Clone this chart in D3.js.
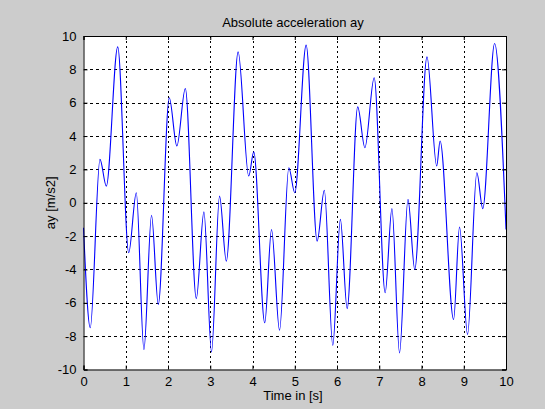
<!DOCTYPE html>
<html><head><meta charset="utf-8">
<script src="https://cdn.jsdelivr.net/npm/d3@7"></script>
<style>html,body{margin:0;padding:0;background:#cccccc;}svg{display:block;}</style>
</head><body>
<script>
const title = "Absolute acceleration ay";
const xLabel = "Time in [s]";
const yLabel = "ay [m/s2]";
const xTicks = [0,1,2,3,4,5,6,7,8,9,10];
const yTicks = [-10,-8,-6,-4,-2,0,2,4,6,8,10];
// time samples (s) and acceleration values (m/s2), read at the turning points
const time = [0,0.16,0.39,0.54,0.81,1.07,1.25,1.43,1.61,1.77,2.03,2.21,2.41,2.67,2.85,3.03,3.22,3.38,3.66,3.91,4.03,4.29,4.45,4.64,4.86,5.0,5.27,5.53,5.70,5.90,6.08,6.24,6.49,6.66,6.88,7.14,7.30,7.48,7.68,7.84,8.13,8.36,8.44,8.76,8.90,9.09,9.31,9.45,9.73,10];
const ay   = [-1.5,-7.5,2.6,1.0,9.35,-3.0,0.6,-8.8,-0.75,-6.1,6.3,3.4,6.85,-5.75,-0.55,-8.95,0.4,-3.5,9.05,1.6,3.05,-7.2,-1.6,-7.65,2.1,0.6,9.45,-2.3,0.75,-8.55,-1.0,-6.35,5.75,3.3,7.5,-5.4,-0.35,-9.0,0.2,-4.0,8.75,2.2,3.7,-7.0,-1.45,-7.9,1.8,-0.35,9.55,-1.6];

const W = 545, H = 409;
const m = {left:83.5, right:506, top:36, bottom:369.5};
const svg = d3.select("body").append("svg").attr("width",W).attr("height",H)
  .style("font-family","'Liberation Sans', Arial, sans-serif");
svg.append("rect").attr("width",W).attr("height",H).attr("fill","#cccccc");

const x = d3.scaleLinear().domain([0,10]).range([m.left,m.right]);
const y = d3.scaleLinear().domain([-10,10]).range([m.bottom,m.top]);

svg.append("rect").attr("x",m.left).attr("y",m.top)
  .attr("width",m.right-m.left).attr("height",m.bottom-m.top).attr("fill","#ffffff");

// grid
const g = svg.append("g").attr("shape-rendering","crispEdges");
g.selectAll(".gx").data(xTicks.slice(1,-1)).enter().append("line")
  .attr("x1",d=>Math.round(x(d))+0.5).attr("x2",d=>Math.round(x(d))+0.5)
  .attr("y1",m.top).attr("y2",m.bottom)
  .attr("stroke","#000").attr("stroke-width",1).attr("stroke-dasharray","2,3");
g.selectAll(".gy").data(yTicks.slice(1,-1)).enter().append("line")
  .attr("y1",d=>Math.round(y(d))+0.5).attr("y2",d=>Math.round(y(d))+0.5)
  .attr("x1",m.left).attr("x2",m.right)
  .attr("stroke","#000").attr("stroke-width",1).attr("stroke-dasharray","3,3");

// data line
const line = d3.line().x((d,i)=>x(time[i])).y(d=>y(d)).curve(d3.curveMonotoneX);
svg.append("path").datum(ay).attr("d",line).attr("fill","none")
  .attr("stroke","#0000ff").attr("stroke-width",1.1);

// axes (MATLAB style, ticks inward)
const fmt = d => String(d);
const axB = d3.axisBottom(x).tickValues(xTicks).tickSize(-4).tickPadding(7).tickFormat(fmt);
const axL = d3.axisLeft(y).tickValues(yTicks).tickSize(-4).tickPadding(7).tickFormat(fmt);
const axT = d3.axisTop(x).tickValues(xTicks).tickSize(-4).tickFormat("");
const axR = d3.axisRight(y).tickValues(yTicks).tickSize(-4).tickFormat("");
function style(sel){
  sel.selectAll("path").attr("stroke","#000");
  sel.selectAll("line").attr("stroke","#000");
  sel.selectAll("text").attr("fill","#000").style("font-size","13px");
}
svg.append("g").attr("transform",`translate(0,${m.bottom})`).call(axB).call(style);
svg.append("g").attr("transform",`translate(${m.left},0)`).call(axL).call(style);
svg.append("g").attr("transform",`translate(0,${m.top})`).call(axT).call(style);
svg.append("g").attr("transform",`translate(${m.right},0)`).call(axR).call(style);

svg.append("text").attr("x",293).attr("y",27).attr("text-anchor","middle")
  .style("font-size","13px").text(title);
svg.append("text").attr("x",293).attr("y",400).attr("text-anchor","middle")
  .style("font-size","13px").text(xLabel);
svg.append("text").attr("transform",`translate(55,${(m.top+m.bottom)/2}) rotate(-90)`)
  .attr("text-anchor","middle").style("font-size","13px").text(yLabel);
</script>
</body></html>
